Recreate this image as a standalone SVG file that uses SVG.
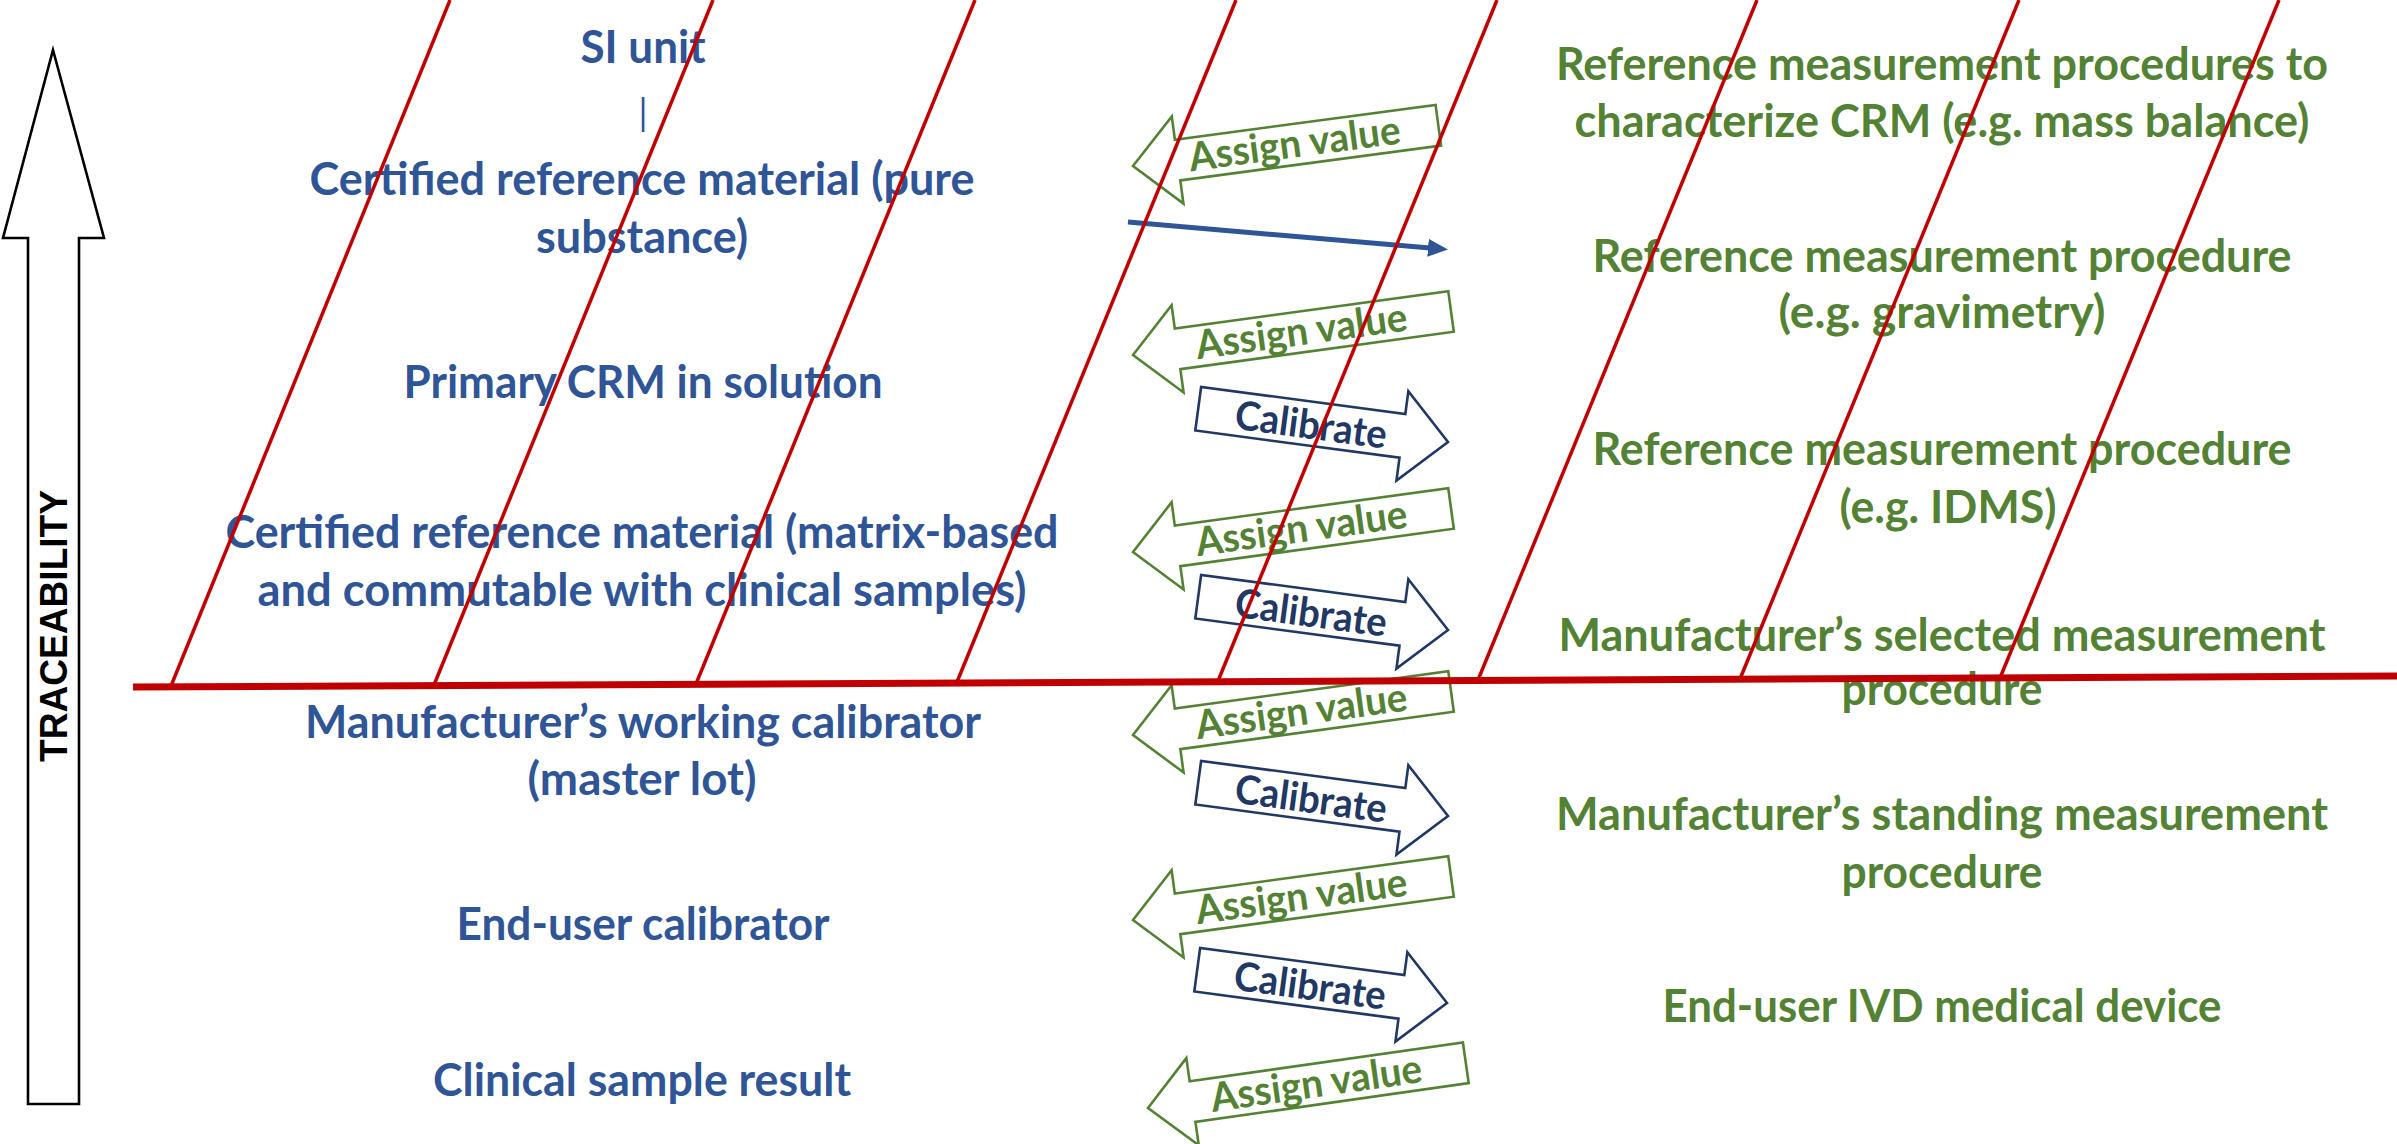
<svg xmlns="http://www.w3.org/2000/svg" width="2397" height="1144" viewBox="0 0 2397 1144">
<style>
  .lb { font-family: Lato, "Open Sans", "Liberation Sans", sans-serif; font-weight: 700; font-size: 45px; fill: #2F5597; text-anchor: middle; }
  .rg { font-family: Lato, "Open Sans", "Liberation Sans", sans-serif; font-weight: 700; font-size: 45px; fill: #548235; text-anchor: middle; }
  .av { fill: #ffffff; stroke: #548235; stroke-width: 2.6; stroke-linejoin: miter; }
  .avt { font-family: Lato, "Open Sans", "Liberation Sans", sans-serif; font-weight: 700; font-size: 40px; fill: #548235; text-anchor: middle; }
  .cb { fill: #ffffff; stroke: #1F3864; stroke-width: 2.6; stroke-linejoin: miter; }
  .cbt { font-family: Lato, "Open Sans", "Liberation Sans", sans-serif; font-weight: 700; font-size: 40px; fill: #1F3864; text-anchor: middle; }
  .diag { stroke: #C00000; stroke-width: 3.5; fill: none; }
  .axis { stroke: #C00000; stroke-width: 7; fill: none; }
</style>
<defs>
  <polygon id="assignLong" points="0,0 45,-44 45,-20.5 321,-20.5 321,20.5 45,20.5 45,44"/>
  <polygon id="assignShort" points="0,0 45,-44 45,-20.5 308,-20.5 308,20.5 45,20.5 45,44"/>
  <polygon id="calib" points="0,0 -46,-45 -46,-22 -252,-22 -252,22 -46,22 -46,45"/>
  <marker id="blueHead" markerUnits="userSpaceOnUse" markerWidth="20" markerHeight="18" refX="2" refY="9" orient="auto">
    <path d="M0,0 L20,9 L0,18 Z" fill="#2F5597"/>
  </marker>
</defs>

<!-- Traceability arrow -->
<g id="traceability">
  <polygon points="53,50 104,238 79,238 79,1104 28,1104 28,238 3,238" fill="#ffffff" stroke="#000000" stroke-width="2.6" stroke-linejoin="miter"/>
  <text transform="translate(67,626) rotate(-90)" font-family="'Liberation Sans', Arial, sans-serif" font-weight="700" font-size="39" text-anchor="middle" textLength="272" lengthAdjust="spacingAndGlyphs" fill="#000000">TRACEABILITY</text>
</g>

<!-- Left column (materials) -->
<g id="si-unit"><text class="lb" x="643" y="63" textLength="125" lengthAdjust="spacingAndGlyphs">SI unit</text>
  <text x="643" y="126" font-family="Lato, 'Liberation Sans', sans-serif" font-size="36" fill="#2F5597" text-anchor="middle">|</text></g>
<g id="crm-pure"><text class="lb" x="642" y="195" textLength="665" lengthAdjust="spacingAndGlyphs">Certified reference material (pure</text>
  <text class="lb" x="642" y="253" textLength="212" lengthAdjust="spacingAndGlyphs">substance)</text></g>
<g id="primary-crm"><text class="lb" x="643" y="398" textLength="479" lengthAdjust="spacingAndGlyphs">Primary CRM in solution</text></g>
<g id="crm-matrix"><text class="lb" x="642" y="548" textLength="833" lengthAdjust="spacingAndGlyphs">Certified reference material (matrix-based</text>
  <text class="lb" x="642" y="606" textLength="769" lengthAdjust="spacingAndGlyphs">and commutable with clinical samples)</text></g>
<g id="working-calibrator"><text class="lb" x="643" y="738" textLength="676" lengthAdjust="spacingAndGlyphs">Manufacturer’s working calibrator</text>
  <text class="lb" x="642" y="795" textLength="229" lengthAdjust="spacingAndGlyphs">(master lot)</text></g>
<g id="end-user-calibrator"><text class="lb" x="643" y="940" textLength="373" lengthAdjust="spacingAndGlyphs">End-user calibrator</text></g>
<g id="clinical-result"><text class="lb" x="642" y="1096" textLength="418" lengthAdjust="spacingAndGlyphs">Clinical sample result</text></g>

<!-- Right column (procedures) -->
<g id="rmp-mass-balance"><text class="rg" x="1942" y="80" textLength="772" lengthAdjust="spacingAndGlyphs">Reference measurement procedures to</text>
  <text class="rg" x="1942" y="137" textLength="735" lengthAdjust="spacingAndGlyphs">characterize CRM (e.g. mass balance)</text></g>
<g id="rmp-gravimetry"><text class="rg" x="1942" y="272" textLength="699" lengthAdjust="spacingAndGlyphs">Reference measurement procedure</text>
  <text class="rg" x="1942" y="328" textLength="327" lengthAdjust="spacingAndGlyphs">(e.g. gravimetry)</text></g>
<g id="rmp-idms"><text class="rg" x="1942" y="465" textLength="699" lengthAdjust="spacingAndGlyphs">Reference measurement procedure</text>
  <text class="rg" x="1948" y="523" textLength="217" lengthAdjust="spacingAndGlyphs">(e.g. IDMS)</text></g>
<g id="selected-mp"><text class="rg" x="1942" y="651" textLength="767" lengthAdjust="spacingAndGlyphs">Manufacturer’s selected measurement</text>
  <text class="rg" x="1942" y="705" textLength="201" lengthAdjust="spacingAndGlyphs">procedure</text></g>
<g id="standing-mp"><text class="rg" x="1942" y="830" textLength="772" lengthAdjust="spacingAndGlyphs">Manufacturer’s standing measurement</text>
  <text class="rg" x="1942" y="888" textLength="201" lengthAdjust="spacingAndGlyphs">procedure</text></g>
<g id="ivd-device"><text class="rg" x="1942" y="1022" textLength="559" lengthAdjust="spacingAndGlyphs">End-user IVD medical device</text></g>

<!-- Connectors -->
<g id="connectors">
  <line x1="1128" y1="222" x2="1430" y2="248" stroke="#2F5597" stroke-width="5" marker-end="url(#blueHead)"/>

  <g transform="translate(1133,166) rotate(-7.6)"><use href="#assignShort" class="av"/><text class="avt" x="163" y="13" textLength="213" lengthAdjust="spacingAndGlyphs">Assign value</text></g>
  <g transform="translate(1133,355) rotate(-7.8)"><use href="#assignLong" class="av"/><text class="avt" x="170" y="13" textLength="213" lengthAdjust="spacingAndGlyphs">Assign value</text></g>
  <g transform="translate(1133,552) rotate(-7.8)"><use href="#assignLong" class="av"/><text class="avt" x="170" y="13" textLength="213" lengthAdjust="spacingAndGlyphs">Assign value</text></g>
  <g transform="translate(1133,735) rotate(-7.8)"><use href="#assignLong" class="av"/><text class="avt" x="170" y="13" textLength="213" lengthAdjust="spacingAndGlyphs">Assign value</text></g>
  <g transform="translate(1133,920) rotate(-7.8)"><use href="#assignLong" class="av"/><text class="avt" x="170" y="13" textLength="213" lengthAdjust="spacingAndGlyphs">Assign value</text></g>
  <g transform="translate(1148,1108) rotate(-8.1)"><use href="#assignLong" class="av"/><text class="avt" x="170" y="13" textLength="213" lengthAdjust="spacingAndGlyphs">Assign value</text></g>

  <g transform="translate(1448,442) rotate(7.6)"><use href="#calib" class="cb"/><text class="cbt" x="-138" y="15" textLength="153" lengthAdjust="spacingAndGlyphs">Calibrate</text></g>
  <g transform="translate(1448,630) rotate(7.6)"><use href="#calib" class="cb"/><text class="cbt" x="-138" y="15" textLength="153" lengthAdjust="spacingAndGlyphs">Calibrate</text></g>
  <g transform="translate(1448,816) rotate(7.6)"><use href="#calib" class="cb"/><text class="cbt" x="-138" y="15" textLength="153" lengthAdjust="spacingAndGlyphs">Calibrate</text></g>
  <g transform="translate(1447,1003) rotate(7.6)"><use href="#calib" class="cb"/><text class="cbt" x="-138" y="15" textLength="153" lengthAdjust="spacingAndGlyphs">Calibrate</text></g>
</g>

<!-- Red grid lines (drawn on top) -->
<g id="grid">
  <line class="axis" x1="133" y1="687" x2="2397" y2="676"/>
  <line class="diag" x1="171" y1="686" x2="450" y2="0"/>
  <line class="diag" x1="434" y1="685" x2="713" y2="0"/>
  <line class="diag" x1="696" y1="684" x2="975" y2="0"/>
  <line class="diag" x1="957" y1="682" x2="1236" y2="0"/>
  <line class="diag" x1="1218" y1="681" x2="1497" y2="0"/>
  <line class="diag" x1="1478" y1="680" x2="1757" y2="0"/>
  <line class="diag" x1="1740" y1="679" x2="2019" y2="0"/>
  <line class="diag" x1="2000" y1="678" x2="2279" y2="0"/>
</g>
</svg>
